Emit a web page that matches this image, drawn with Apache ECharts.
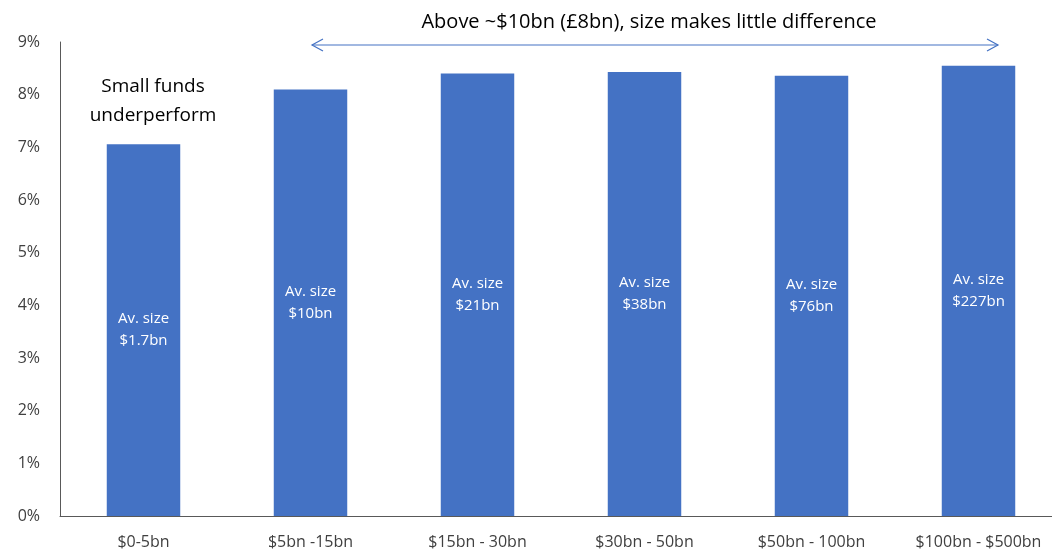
<!DOCTYPE html>
<html>
<head>
<meta charset="utf-8">
<script src="https://cdn.jsdelivr.net/npm/echarts@6/dist/echarts.min.js"></script>
<style>
  html, body { margin: 0; padding: 0; background: #fff; overflow: hidden; }
  /* plot runs a little past the right edge of the window, as in the reference */
  #main { width: 1062px; height: 551px; }
</style>
</head>
<body>
<div id="main"></div>
<script>
var categories = ['$0-5bn', '$5bn -15bn', '$15bn - 30bn', '$30bn - 50bn', '$50bn - 100bn', '$100bn - $500bn'];
var returns = [7.06, 8.10, 8.40, 8.43, 8.36, 8.55];
var avgSizes = ['$1.7bn', '$10bn', '$21bn', '$38bn', '$76bn', '$227bn'];
var yTicks = [0, 1, 2, 3, 4, 5, 6, 7, 8, 9];

var font = '"Open Sans", Lato, sans-serif';
var blue = '#4472C4';

var chart = echarts.init(document.getElementById('main'), null, { renderer: 'canvas' });

var option = {
  animation: false,
  textStyle: { fontFamily: font },
  grid: {
    left: 60,
    right: 0,
    top: 42,
    bottom: 35
  },
  xAxis: {
    type: 'category',
    data: categories,
    axisLine: { show: true, lineStyle: { color: '#595959', width: 1 } },
    axisTick: { show: false },
    axisLabel: { color: '#404040', fontSize: 16, fontFamily: font, margin: 18, interval: 0 },
    splitLine: { show: false }
  },
  yAxis: {
    type: 'value',
    min: yTicks[0],
    max: yTicks[yTicks.length - 1],
    interval: 1,
    axisLine: { show: true, lineStyle: { color: '#595959', width: 1 } },
    axisTick: { show: false },
    splitLine: { show: false },
    axisLabel: {
      color: '#404040',
      fontSize: 16,
      fontFamily: font,
      margin: 20,
      formatter: '{value}%'
    }
  },
  series: [
    {
      type: 'bar',
      data: returns,
      barWidth: '44%',
      itemStyle: { color: blue },
      label: {
        show: true,
        position: 'inside',
        color: '#fff',
        fontSize: 15,
        lineHeight: 22,
        fontFamily: font,
        formatter: function (p) {
          return 'Av. size\n' + avgSizes[p.dataIndex];
        }
      }
    }
  ],
  graphic: [
    // annotation over the first bar
    {
      type: 'text',
      x: 153,
      y: 101,
      style: {
        text: 'Small funds\nunderperform',
        align: 'center',
        verticalAlign: 'middle',
        fill: '#000',
        font: '19px ' + font,
        lineHeight: 29
      }
    },
    // heading above the arrow
    {
      type: 'text',
      x: 649,
      y: 22,
      style: {
        text: 'Above ~$10bn (\u00a38bn), size makes little difference',
        align: 'center',
        verticalAlign: 'middle',
        fill: '#000',
        font: '20px ' + font
      }
    },
    // double-headed arrow
    {
      type: 'line',
      shape: { x1: 312, y1: 45, x2: 998, y2: 45 },
      style: { stroke: blue, lineWidth: 1.2 }
    },
    {
      type: 'polyline',
      shape: { points: [[323, 39], [312, 45], [323, 51]] },
      style: { stroke: blue, lineWidth: 1.2, fill: null }
    },
    {
      type: 'polyline',
      shape: { points: [[987, 39], [998, 45], [987, 51]] },
      style: { stroke: blue, lineWidth: 1.2, fill: null }
    }
  ]
};

chart.setOption(option);
</script>
</body>
</html>
